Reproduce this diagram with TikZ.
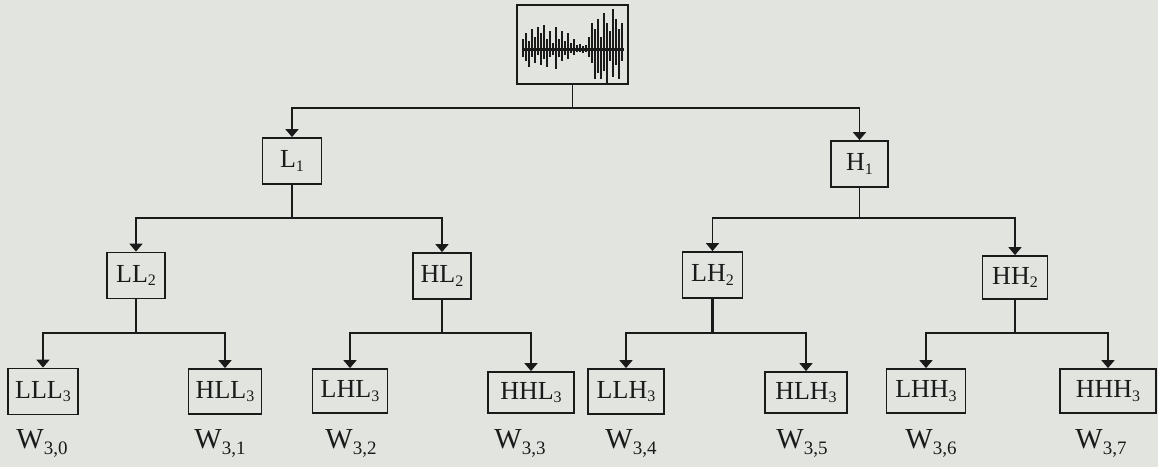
\documentclass[tikz,border=0pt]{standalone}
\usepackage{fontspec}
\setmainfont{Liberation Serif}
\usepackage{xcolor}
\usetikzlibrary{positioning,arrows.meta}
\definecolor{paper}{HTML}{E2E4E0}
\definecolor{ink}{HTML}{1A1A1A}
\newcommand{\sbx}[1]{\raisebox{-0.3ex}{\fontsize{16}{16}\selectfont #1}}
\newcommand{\wlab}[1]{W\raisebox{-0.45ex}{\fontsize{19}{19}\selectfont #1}}

\begin{document}
\begin{tikzpicture}[x=1pt,y=-1pt,
  every node/.style={text=ink},
  band/.style={draw=ink,line width=1.8pt,fill=paper,inner sep=0pt,
    minimum height=46pt,font=\fontsize{26}{26}\selectfont},
  wire/.style={draw=ink,line width=1.8pt},
  arr/.style={wire,-{Triangle[width=13pt,length=8pt]}},
  coef/.style={font=\fontsize{29}{29}\selectfont}]
  \fill[paper] (0,0) rectangle (1158,467);
  \useasboundingbox (0,0) rectangle (1158,467);
  % signal
  \node[draw=ink,line width=1.8pt,minimum width=111pt,minimum height=79pt,inner sep=0pt] (sig) at (572.5,44.5) {};
  \draw[ink,line width=3pt] (522,49)--(624,49);
  \foreach \x/\u/\d in {523/10/8,526/16/12,529/8/18,532/20/8,535/12/14,538/22/6,
    541/16/16,544/24/10,547/10/18,550/18/8,553/6/6,556/22/20,559/10/8,562/18/12,
    565/8/6,568/16/10,571/6/4,574/10/6,577/4/3,580/5/3,583/3/4,586/4/3,589/12/8,
    592/26/14,595/20/30,598/30/24,601/12/30,604/36/22,607/26/34,610/18/12,613/40/28,
    616/30/16,619/20/30,622/26/12}
    \draw[ink,line width=1.9pt] (\x,49-\u)--(\x,49+\d);
  % level 1
  \node[band,minimum width=59pt] (L1) at (292,161) {L\sbx{1}};
  \node[band,minimum width=57pt] (H1) at (859.5,164) {H\sbx{1}};
  % level 2
  \node[band,minimum width=58pt] (LL2) at (136,275.5) {LL\sbx{2}};
  \node[band,minimum width=58pt] (HL2) at (442,276) {HL\sbx{2}};
  \node[band,minimum width=60pt] (LH2) at (712.5,275) {LH\sbx{2}};
  \node[band,minimum width=65pt,minimum height=43pt] (HH2) at (1015,277.5) {HH\sbx{2}};
  % level 3
  \node[band,minimum width=70pt] (LLL3) at (43,391.5) {LLL\sbx{3}};
  \node[band,minimum width=73pt,minimum height=45pt] (HLL3) at (225,391.5) {HLL\sbx{3}};
  \node[band,minimum width=75pt,minimum height=44pt] (LHL3) at (350,391) {LHL\sbx{3}};
  \node[band,minimum width=86pt,minimum height=41pt] (HHL3) at (531,392.5) {HHL\sbx{3}};
  \node[band,minimum width=76pt,minimum height=45pt] (LLH3) at (626,391.5) {LLH\sbx{3}};
  \node[band,minimum width=82pt,minimum height=41pt] (HLH3) at (806,392.5) {HLH\sbx{3}};
  \node[band,minimum width=79pt,minimum height=44pt] (LHH3) at (926,391) {LHH\sbx{3}};
  \node[band,minimum width=96pt,minimum height=44pt] (HHH3) at (1108,391) {HHH\sbx{3}};
  % coefficients
  \node[coef] (w0) at (42,443) {\wlab{3,0}};
  \node[coef] (w1) at (220,443) {\wlab{3,1}};
  \node[coef] (w2) at (351,443) {\wlab{3,2}};
  \node[coef] (w3) at (520,443) {\wlab{3,3}};
  \node[coef] (w4) at (631,443) {\wlab{3,4}};
  \node[coef] (w5) at (802,443) {\wlab{3,5}};
  \node[coef] (w6) at (931,443) {\wlab{3,6}};
  \node[coef] (w7) at (1101,443) {\wlab{3,7}};
  % buses
  \coordinate (bus0) at (0,108);
  \coordinate (bus1) at (0,218);
  \coordinate (bus2) at (0,333);
  \draw[wire] (sig.south) -- (sig.south |- bus0);
  \draw[arr] (sig.south |- bus0) -| (L1.north);
  \draw[arr] (sig.south |- bus0) -| (H1.north);
  \draw[wire] (L1.south) -- (L1.south |- bus1);
  \draw[arr] (L1.south |- bus1) -| (LL2.north);
  \draw[arr] (L1.south |- bus1) -| (HL2.north);
  \draw[wire] (H1.south) -- (H1.south |- bus1);
  \draw[arr] (H1.south |- bus1) -| (LH2.north);
  \draw[arr] (H1.south |- bus1) -| (HH2.north);
  \draw[wire,line width=2.6pt] (LL2.south) -- (LL2.south |- bus2);
  \draw[arr] (LL2.south |- bus2) -| (LLL3.north);
  \draw[arr] (LL2.south |- bus2) -| (HLL3.north);
  \draw[wire] (HL2.south) -- (HL2.south |- bus2);
  \draw[arr] (HL2.south |- bus2) -| (LHL3.north);
  \draw[arr] (HL2.south |- bus2) -| (HHL3.north);
  \draw[wire,line width=2.6pt] (LH2.south) -- (LH2.south |- bus2);
  \draw[arr] (LH2.south |- bus2) -| (LLH3.north);
  \draw[arr] (LH2.south |- bus2) -| (HLH3.north);
  \draw[wire] (HH2.south) -- (HH2.south |- bus2);
  \draw[arr] (HH2.south |- bus2) -| (LHH3.north);
  \draw[arr] (HH2.south |- bus2) -| (HHH3.north);
\end{tikzpicture}
\end{document}
